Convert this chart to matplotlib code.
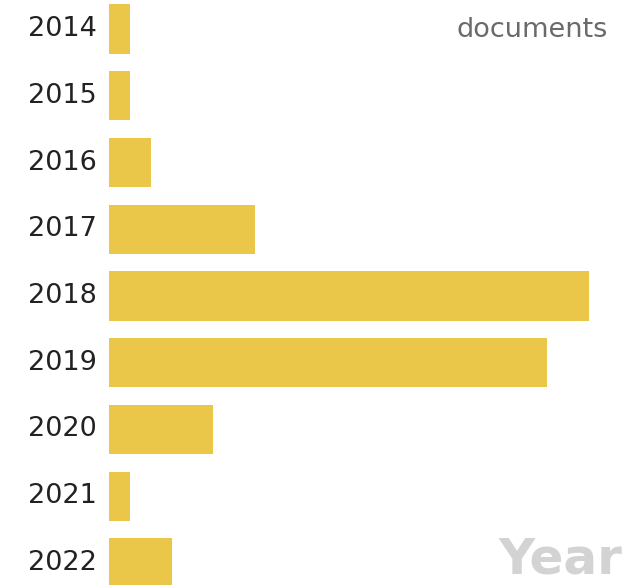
import matplotlib
matplotlib.use("Agg")
import matplotlib.pyplot as plt

# Documents per year
years = ["2014", "2015", "2016", "2017", "2018", "2019", "2020", "2021", "2022"]
documents = [1, 1, 2, 7, 23, 21, 5, 1, 3]

bar_color = "#EAC748"

fig = plt.figure(figsize=(6.41, 5.85), dpi=100)
ax = fig.add_axes([0, 0, 1, 1])

ypos = list(range(len(years)))
ax.barh(ypos, documents, height=0.74, color=bar_color, left=0)

# Map data space onto the figure: zero at x=109px, ~20.9 px per document
px_per_doc = 20.87
ax.set_xlim(-109 / px_per_doc, (641 - 109) / px_per_doc)
row_step = 66.75
ax.set_ylim((585 - 29) / row_step, -29 / row_step)

for y, label in zip(ypos, years):
    ax.text(-12 / px_per_doc, y, label, ha="right", va="center",
            fontsize=19.5, color="#222222", family="DejaVu Sans")

ax.text(608 / 641, 1 - 30 / 585, "documents", transform=ax.transAxes,
        ha="right", va="center", fontsize=19.5, color="#6a6a6a",
        family="DejaVu Sans")

ax.text(622 / 641, 2 / 585, "Year", transform=ax.transAxes,
        ha="right", va="bottom", fontsize=36, fontweight="bold",
        color="#D3D3D3", family="DejaVu Sans")

ax.axis("off")
fig.savefig("out.png", dpi=100)
